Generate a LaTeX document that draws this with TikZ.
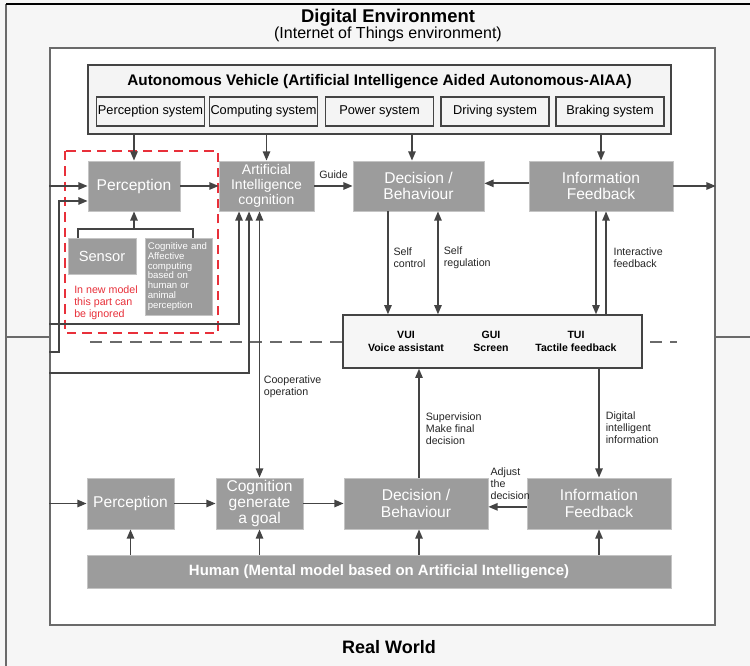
\documentclass[tikz,border=0pt]{standalone}
\usepackage{fontspec}
\setmainfont{Liberation Sans}
\usetikzlibrary{arrows.meta}

\definecolor{bgGray}{HTML}{F6F6F6}
\definecolor{paleGray}{HTML}{F4F4F4}
\definecolor{boxGray}{HTML}{9C9C9C}
\definecolor{edgeGray}{HTML}{C4C4C4}
\definecolor{lineGray}{HTML}{444444}
\definecolor{frameGray}{HTML}{6A6A6A}
\definecolor{noteRed}{HTML}{E8303A}

\begin{document}
\begin{tikzpicture}[
    x=0.75pt, y=-0.75pt,
    >={Triangle[length=7pt, width=5.5pt]},
    line/.style={draw=lineGray, line width=1.3pt},
    block/.style={rectangle, draw=edgeGray, line width=0.5pt, fill=boxGray,
        text=white, align=center, inner sep=0pt,
        font=\fontsize{11.7}{12.4}\selectfont},
    subsys/.style={rectangle, draw=lineGray, line width=0.9pt, fill=paleGray,
        minimum width=81pt, minimum height=21.75pt, inner sep=0pt,
        font=\fontsize{9.6}{11}\selectfont},
    uitext/.style={align=center, inner sep=0pt, font=\fontsize{7.9}{9.75}\selectfont\bfseries},
    lbl/.style={align=left, inner sep=0pt, text=black!85, font=\fontsize{8}{9}\selectfont},
    redbox/.style={draw=noteRed, line width=1.5pt, dash pattern=on 7pt off 4.5pt},
    split/.style={draw=frameGray, line width=1pt, dash pattern=on 9pt off 6pt}
]
\useasboundingbox (0,0) rectangle (750,666);
\fill[bgGray] (0,0) rectangle (750,666);
\draw[frameGray, line width=1pt] (6,666) -- (6,4);
\draw[black, line width=1.2pt] (6,4) -- (750,4);

\node (inner) [rectangle, draw=frameGray, line width=1.2pt, fill=white,
    minimum width=498.75pt, minimum height=432.75pt] at (382.5,336.5) {};
\draw[frameGray, line width=1pt] (6,337) -- (inner.west |- 0,337);
\draw[frameGray, line width=1pt] (inner.east |- 0,337) -- (750,337);
% digital / real border
\draw[split] (90,342) -- (677,342);

\node (digital) [font=\fontsize{13.8}{16}\selectfont\bfseries] at (388,18) {Digital Environment};
\node (iot) [font=\fontsize{12}{14}\selectfont] at (388,34) {(Internet of Things environment)};
\node (realworld) [font=\fontsize{13.5}{16}\selectfont\bfseries] at (389,647) {Real World};

% vehicle
\node (AV) [rectangle, draw=lineGray, line width=0.9pt, fill=paleGray,
    minimum width=437.25pt, minimum height=51.75pt] at (379.5,99.5) {};
\node (AVtitle) [font=\fontsize{11.5}{13}\selectfont\bfseries] at (379.5,82)
    {Autonomous Vehicle (Artificial Intelligence Aided Autonomous-AIAA)};
\node (S1) [subsys] at (150.5,111.5) {Perception system};
\node (S2) [subsys] at (263.5,111.5) {Computing system};
\node (S3) [subsys] at (379.5,111.5) {Power system};
\node (S4) [subsys] at (495,111.5) {Driving system};
\node (S5) [subsys] at (610,111.5) {Braking system};

% digital row
\node (PercA) [block, minimum width=69pt, minimum height=37.5pt] at (134,186) {Perception};
\node (AIcog) [block, minimum width=71.25pt, minimum height=37.5pt,
    font=\fontsize{10.5}{11.25}\selectfont] at (266.5,186) {Artificial\\Intelligence\\cognition};
\node (DecA) [block, minimum width=98.25pt, minimum height=37.5pt] at (418.5,186) {Decision /\\Behaviour};
\node (InfoA) [block, minimum width=108pt, minimum height=37.5pt] at (601,186) {Information\\Feedback};

\node (Sensor) [block, minimum width=51pt, minimum height=27pt,
    font=\fontsize{11}{12}\selectfont] at (102,256) {Sensor};
\node (Cogn) [block, minimum width=50.25pt, minimum height=57.75pt, text width=46pt, align=left,
    font=\fontsize{7.2}{7.3}\selectfont] at (178.5,276.5)
    {Cognitive and\\Affective\\computing\\based on\\human or\\animal\\perception};
\node (note) [anchor=north west, align=left, inner sep=0pt, text=noteRed,
    font=\fontsize{8}{9}\selectfont] at (74,286) {In new model\\this part can\\be ignored};
\draw[redbox] (65,151) rectangle (218,333);

% interfaces
\node (UI) [rectangle, draw=lineGray, line width=0.9pt, fill=bgGray,
    minimum width=224.25pt, minimum height=39.75pt] at (492.5,341.5) {};
\node (VUI) [uitext] at (406,341.5) {VUI\\Voice assistant};
\node (GUI) [uitext] at (491,341.5) {GUI\\Screen};
\node (TUI) [uitext] at (576,341.5) {TUI\\Tactile feedback};

% real row
\node (PercB) [block, minimum width=65.25pt, minimum height=38.25pt] at (130.5,503.5) {Perception};
\node (CogB) [block, minimum width=65.25pt, minimum height=38.25pt,
    font=\fontsize{11.7}{12}\selectfont] at (259.5,503.5) {Cognition\\generate\\a goal};
\node (DecB) [block, minimum width=108pt, minimum height=38.25pt] at (416,503.5) {Decision /\\Behaviour};
\node (InfoB) [block, minimum width=108pt, minimum height=38.25pt] at (599,503.5) {Information\\Feedback};
\node (Human) [block, minimum width=438pt, minimum height=24.75pt,
    font=\fontsize{11.2}{12}\selectfont\bfseries] at (379,571.5)
    {Human (Mental model based on Artificial Intelligence)};

% vehicle into digital row
\draw[line,->] (PercA.north |- AV.south) -- (PercA.north);
\draw[line,->] (AIcog.north |- AV.south) -- (AIcog.north);
\draw[line,->] ([xshift=-4.9pt]DecA.north |- AV.south) -- ([xshift=-4.9pt]DecA.north);
\draw[line,->] (InfoA.north |- AV.south) -- (InfoA.north);

% digital row
\coordinate (bendA) at (59,352);
\coordinate (brk) at (PercA.south |- 0,229);
\draw[line,->] (inner.west |- PercA.west) -- (PercA.west);
\draw[line,->] (inner.west |- bendA) -- (bendA) |- ([yshift=-11.25pt]PercA.west);
\draw[line] ([xshift=-18pt]Sensor.north) |- (brk) -| ([xshift=10.9pt]Cogn.north);
\draw[line,->] (brk) -- (PercA.south);
\draw[line,->] (PercA.east) -- (AIcog.west);
\draw[line,->] (inner.west |- 0,324) -| ([xshift=-20.6pt]AIcog.south);
\draw[line,->] (inner.west |- 0,373) -| ([xshift=-13.1pt]AIcog.south);
\draw[line,->] (AIcog.east) -- (DecA.west)
    node (guide) [lbl, midway, anchor=south, yshift=5pt] {Guide};
\draw[line,->] ([yshift=2pt]InfoA.west) -- ([yshift=2pt]DecA.east);
\draw[line,->] (InfoA.east) -- (inner.east |- InfoA.east);

% digital row to interfaces
\draw[line,->] ([xshift=-22.9pt]DecA.south) -- ([xshift=-22.9pt]DecA.south |- UI.north)
    node (selfc) [lbl, pos=0.45, anchor=west, xshift=3.5pt] {Self\\control};
\draw[line,<->] ([xshift=14.6pt]DecA.south) -- ([xshift=14.6pt]DecA.south |- UI.north)
    node (selfr) [lbl, pos=0.45, anchor=west, xshift=3.75pt] {Self\\regulation};
\draw[line,->] ([xshift=-3.75pt]InfoA.south) -- ([xshift=-3.75pt]InfoA.south |- UI.north);
\draw[line,->] ([xshift=3.75pt]InfoA.south |- UI.north) -- ([xshift=3.75pt]InfoA.south)
    node (interact) [lbl, pos=0.55, anchor=west, xshift=5pt] {Interactive\\feedback};

% interfaces and real row
\draw[line,->] ([xshift=2.25pt]DecB.north) -- ([xshift=2.25pt]DecB.north |- UI.south)
    node (superv) [lbl, pos=0.45, anchor=west, xshift=4.5pt] {Supervision\\Make final\\decision};
\draw[line,->] (InfoB.north |- UI.south) -- (InfoB.north)
    node (digi) [lbl, pos=0.545, anchor=west, xshift=4.5pt] {Digital\\intelligent\\information};
\draw[line,<->] (CogB.north) -- (CogB.north |- AIcog.south)
    node (coop) [lbl, pos=0.34, anchor=west, xshift=2.6pt] {Cooperative\\operation};

% real row
\draw[line,->] (inner.west |- PercB.west) -- (PercB.west);
\draw[line,->] (PercB.east) -- (CogB.west);
\draw[line,->] (CogB.east) -- (DecB.west);
\draw[line,->] ([yshift=-2.5pt]InfoB.west) -- ([yshift=-2.5pt]DecB.east);
\node (adjust) [lbl, anchor=south west] at ([xshift=1.5pt, yshift=2.6pt]DecB.east) {Adjust\\the\\decision};
\draw[line,->] (Human.north -| PercB.south) -- (PercB.south);
\draw[line,->] (Human.north -| CogB.south) -- (CogB.south);
\draw[line,->] ([xshift=2.25pt]Human.north -| DecB.south) -- ([xshift=2.25pt]DecB.south);
\draw[line,->] (Human.north -| InfoB.south) -- (InfoB.south);
\end{tikzpicture}
\end{document}
